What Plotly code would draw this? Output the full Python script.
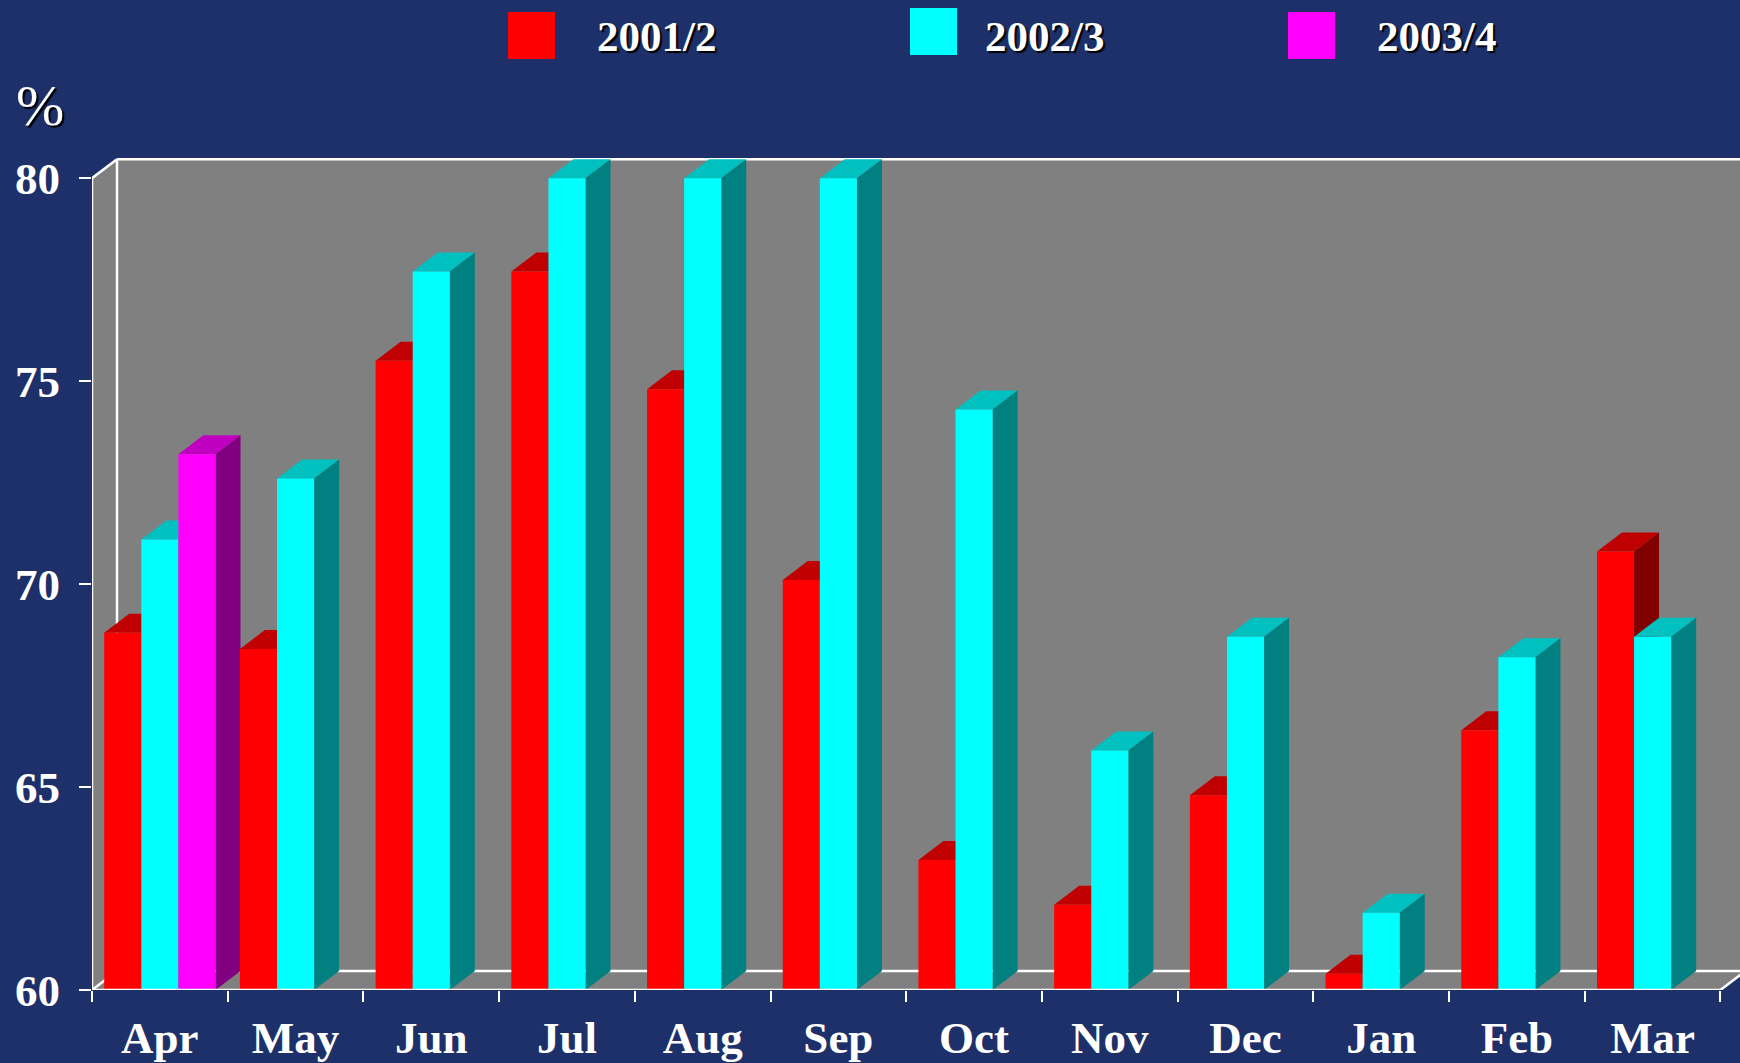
import plotly.graph_objects as go

# ---------------- data ----------------
months = ["Apr", "May", "Jun", "Jul", "Aug", "Sep", "Oct", "Nov", "Dec", "Jan", "Feb", "Mar"]
series_names = ["2001/2", "2002/3", "2003/4"]
s2001_2 = [68.8, 68.4, 75.5, 77.7, 74.8, 70.1, 63.2, 62.1, 64.8, 60.4, 66.4, 70.8]
s2002_3 = [71.1, 72.6, 77.7, 80.0, 80.0, 80.0, 74.3, 65.9, 68.7, 61.9, 68.2, 68.7]
s2003_4 = [73.2, None, None, None, None, None, None, None, None, None, None, None]
y_tick_vals = [60, 65, 70, 75, 80]
y_axis_label = "%"

# ---------------- styling ----------------
NAVY = "#1D3069"
WALL = "#808080"
front_cols = ["#FF0000", "#00FFFF", "#FF00FF"]
top_cols = ["#C00000", "#00C0C0", "#C000C0"]
side_cols = ["#800000", "#008080", "#800080"]
FONT = "Liberation Serif"

W, H = 1740, 1063
ML, MR, MT, MB = 92, 0, 140, 73
plot_w = W - ML - MR
plot_h = H - MT - MB

x_range = [-0.5, 11.644]
y_range = [60, 80.94]
kx = plot_w / (x_range[1] - x_range[0])
ky = plot_h / (y_range[1] - y_range[0])
DX = 25 / kx   # depth offset (data units)
DY = 19 / ky

BARGAP = 0.18
series = [s2001_2, s2002_3, s2003_4]
nser = len(series)
bw = (1 - BARGAP) / nser
ybase = y_range[0]
ytop = max(y_tick_vals)
xl = -0.5
xr = len(months) - 0.5

fig = go.Figure()
for j, (name, vals) in enumerate(zip(series_names, series)):
    fig.add_trace(go.Bar(
        x=list(range(len(months))), y=vals, name=name,
        marker=dict(color=front_cols[j], line=dict(width=0)),
        hoverinfo="skip", showlegend=False,
    ))

shapes = []

def poly(pts, color, layer="below"):
    d = "M " + " L ".join(f"{a},{b}" for a, b in pts) + " Z"
    return dict(type="path", path=d, xref="x", yref="y", fillcolor=color,
                line=dict(width=0), layer=layer)

def seg(p, q, layer="below", width=2.5):
    return dict(type="line", xref="x", yref="y", x0=p[0], y0=p[1], x1=q[0], y1=q[1],
                line=dict(color="white", width=width), layer=layer)

# walls + floor (gray)
shapes.append(poly([(xl, ybase), (xr, ybase), (xr + DX, ybase + DY), (x_range[1] + 1, ybase + DY),
                    (x_range[1] + 1, ytop + DY), (xl + DX, ytop + DY), (xl, ytop)], WALL))
# back edges
shapes.append(seg((xl + DX, ytop + DY), (x_range[1] + 1, ytop + DY)))
shapes.append(seg((xl + DX, ybase + DY), (xl + DX, ytop + DY)))
shapes.append(seg((xl + DX, ybase + DY), (x_range[1] + 1, ybase + DY)))
# front edges
shapes.append(seg((xl, ytop), (xl + DX, ytop + DY)))
shapes.append(seg((xl, ybase), (xl + DX, ybase + DY)))
shapes.append(seg((xr, ybase), (xr + DX, ybase + DY)))

# 3D faces of bars (tops and sides), drawn left to right
for i in range(len(months)):
    for j, vals in enumerate(series):
        v = vals[i]
        if v is None:
            continue
        left = i - (1 - BARGAP) / 2 + j * bw
        right = left + bw
        shapes.append(poly([(left, v), (right, v), (right + DX, v + DY), (left + DX, v + DY)], top_cols[j]))
        shapes.append(poly([(right, ybase), (right, v), (right + DX, v + DY), (right + DX, ybase + DY)], side_cols[j]))

# front axis lines on top
shapes.append(seg((xl, ybase), (xl, ytop), layer="above"))
shapes.append(seg((xl, ybase), (xr, ybase), layer="above"))

# legend (manual)
def pxx(px):
    return (px - ML) / plot_w

def pxy(py):
    return (H - MB - py) / plot_h

legend_boxes = [(508, 12), (910, 8), (1288, 12)]
legend_text_x = [595, 983, 1375]
annotations = []
for j, name in enumerate(series_names):
    bx, by = legend_boxes[j]
    shapes.append(dict(type="rect", xref="paper", yref="paper",
                       x0=pxx(bx), x1=pxx(bx + 47), y0=pxy(by + 47), y1=pxy(by),
                       fillcolor=front_cols[j], line=dict(width=0)))
    annotations.append(dict(text=name, xref="paper", yref="paper", x=pxx(legend_text_x[j]), y=pxy(36),
                            xanchor="left", yanchor="middle", showarrow=False,
                            font=dict(family=FONT, size=43, color="white", weight="bold",
                                      shadow="2px 2px 1px #000000")))

annotations.append(dict(text=y_axis_label, xref="paper", yref="paper", x=pxx(40), y=pxy(106),
                        xanchor="center", yanchor="middle", showarrow=False,
                        font=dict(family=FONT, size=58, color="white",
                                  shadow="2px 2px 1px #000000")))

fig.update_layout(
    width=W, height=H,
    margin=dict(l=ML, r=MR, t=MT, b=MB, autoexpand=False),
    paper_bgcolor=NAVY, plot_bgcolor=NAVY,
    barmode="group", bargap=BARGAP, bargroupgap=0,
    shapes=shapes, annotations=annotations,
    showlegend=False,
    xaxis=dict(
        range=x_range, tickmode="array", tickvals=list(range(len(months))), ticktext=months,
        ticks="outside", ticklen=0, showline=False, showgrid=False, zeroline=False,
        ticklabelstandoff=8,
        tickfont=dict(family=FONT, size=45, color="white", weight="bold"),
        minor=dict(tickmode="array", tickvals=[k - 0.5 for k in range(len(months) + 1)],
                   ticks="outside", ticklen=11, tickwidth=2, tickcolor="white", showgrid=False),
        fixedrange=True,
    ),
    yaxis=dict(
        range=y_range, tickmode="array", tickvals=y_tick_vals,
        ticks="outside", ticklen=12, tickwidth=2, tickcolor="white",
        showline=False, showgrid=False, zeroline=False,
        ticklabelstandoff=10,
        tickfont=dict(family=FONT, size=45, color="white", weight="bold"),
        fixedrange=True,
    ),
)

fig.write_html(
    "out.html",
    config={"displayModeBar": False},
    post_script="document.body.style.margin='0';document.body.style.overflow='hidden';",
)
